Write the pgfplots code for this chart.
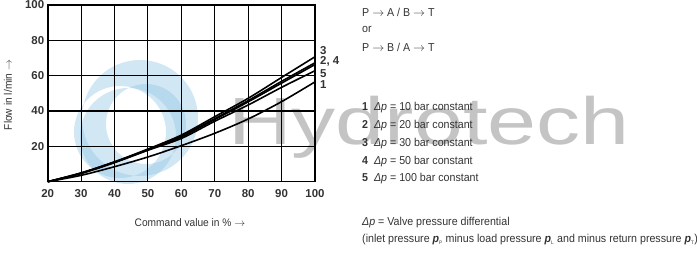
\documentclass[border=0pt]{standalone}
\usepackage{fontspec}
\setmainfont{Liberation Sans}[FakeStretch=0.93]
\newfontfamily\tickfont{Liberation Sans}
\newfontfamily\wmfont{Liberation Sans}[FakeStretch=1.32]
\usepackage{pgfplots}
\pgfplotsset{compat=1.18}
\definecolor{txt}{HTML}{333333}
\definecolor{wm}{HTML}{C4C4C4}
\definecolor{swirl}{HTML}{8EC3E3}
\begin{document}
\begin{tikzpicture}[x=1bp,y=1bp]
\useasboundingbox (0,0) rectangle (697,-252);
% watermark
\fill[swirl,opacity=0.4,even odd rule] (140,-118) circle (58) (120,-132) circle (46);
\fill[swirl,opacity=0.4,even odd rule] (128,-136) circle (48) (146,-124) circle (40);
\node[anchor=west,text=wm,font=\wmfont\fontsize{67}{67}\selectfont,inner sep=0] at (228,-127) {Hydrotech};
\begin{axis}[
  at={(47.7bp,-181.7bp)}, anchor=south west,
  scale only axis, width=267.3bp, height=176.7bp,
  xmin=20, xmax=100, ymin=0, ymax=100,
  xtick={20,30,...,100}, ytick={20,40,60,80,100},
  grid=major, major grid style={black, line width=1.1pt},
  axis line style={black, line width=1.1pt},
  tick style={draw=none},
  ticklabel style={font=\tickfont\fontsize{11.5}{12}\selectfont\bfseries, text=txt},
  /pgf/number format/assume math mode=true,
  xticklabel style={yshift=-4bp},
  clip=false,
]
\draw[black,line width=2pt] (axis cs:20,0) -- (axis cs:20,100);
\addplot[black, line width=1.6pt, smooth] coordinates {(20,0) (30,3.6) (40,8.5) (50,14) (60,20.4) (70,27.4) (80,35.5) (90,45.3) (100,56.5)};
\addplot[black, line width=1.6pt, smooth] coordinates {(20,0) (30,5.0) (40,11.3) (50,18.5) (60,26.4) (70,36.8) (80,47.2) (90,59) (100,70.7)};
\addplot[black, line width=1.6pt, smooth] coordinates {(20,0) (30,4.9) (40,11.1) (50,18.2) (60,25.8) (70,35.7) (80,45.9) (90,56.8) (100,67.3)};
\addplot[black, line width=1.6pt, smooth] coordinates {(20,0) (30,4.8) (40,11.0) (50,18.0) (60,25.3) (70,35.2) (80,45.2) (90,55.8) (100,66.3)};
\addplot[black, line width=1.6pt, smooth] coordinates {(20,0) (30,4.6) (40,10.8) (50,17.8) (60,24.5) (70,34.2) (80,43.4) (90,53.4) (100,62.8)};
\node[anchor=west, inner sep=0, font=\tickfont\fontsize{11.5}{12}\selectfont\bfseries, text=txt] at (axis cs:101.5,74.1) {3};
\node[anchor=west, inner sep=0, font=\tickfont\fontsize{11.5}{12}\selectfont\bfseries, text=txt] at (axis cs:101.5,67.9) {2, 4};
\node[anchor=west, inner sep=0, font=\tickfont\fontsize{11.5}{12}\selectfont\bfseries, text=txt] at (axis cs:101.5,61.3) {5};
\node[anchor=west, inner sep=0, font=\tickfont\fontsize{11.5}{12}\selectfont\bfseries, text=txt] at (axis cs:101.5,54.7) {1};
\end{axis}
\node[rotate=90, text=txt, font=\fontsize{11}{12}\selectfont] at (8,-95) {Flow in l/min $\rightarrow$};
\node[text=txt, font=\fontsize{11}{12}\selectfont] at (190,-223) {Command value in \% $\rightarrow$};
\begin{scope}[every node/.style={anchor=west, inner sep=0, text=txt, font=\fontsize{11.5}{12}\selectfont}]
\node at (362,-12) {P $\rightarrow$ A / B $\rightarrow$ T};
\node at (362,-29.5) {or};
\node at (362,-47) {P $\rightarrow$ B / A $\rightarrow$ T};
\node at (362,-108) {\textbf{1}\ \ \textit{Δp} = 10 bar constant};
\node at (362,-126) {\textbf{2}\ \ \textit{Δp} = 20 bar constant};
\node at (362,-144) {\textbf{3}\ \ \textit{Δp} = 30 bar constant};
\node at (362,-162) {\textbf{4}\ \ \textit{Δp} = 50 bar constant};
\node at (362,-179) {\textbf{5}\ \ \textit{Δp} = 100 bar constant};
\node at (362,-223) {\textit{Δp} = Valve pressure differential};
\node at (362,-240) {(inlet pressure \textbf{\textit{p}}\textsubscript{\tiny P} minus load pressure \textbf{\textit{p}}\textsubscript{\tiny L} and minus return pressure \textbf{\textit{p}}\textsubscript{\tiny T})};
\end{scope}
\end{tikzpicture}
\end{document}
